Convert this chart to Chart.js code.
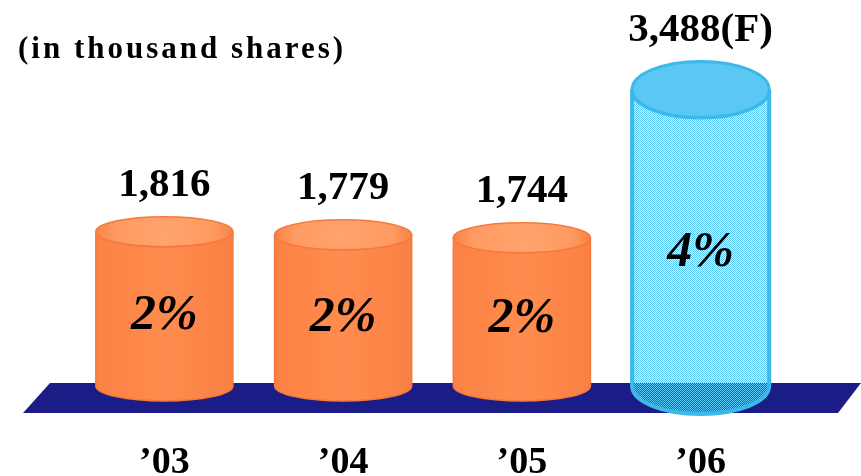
<!DOCTYPE html>
<html>
<head>
<meta charset="utf-8">
<script src="https://cdn.jsdelivr.net/npm/chart.js@4/dist/chart.umd.min.js"></script>
<style>
  html, body { margin: 0; padding: 0; background: #fff; }
  #wrap { width: 861px; height: 476px; }
</style>
</head>
<body>
<div id="wrap"><canvas id="sharesChart"></canvas></div>
<script>
// Shares per year (thousands) and share ratio
const years = ['\u201903', '\u201904', '\u201905', '\u201906'];
const shares = [1816, 1779, 1744, 3488];
const ratios = [2, 2, 2, 4];
const forecast = [false, false, false, true];
const yRange = [0, 4000];

const SERIF = '"Liberation Serif", "Times New Roman", serif';

// small dotted fill for the forecast cylinder
function dotPattern(ctx) {
    const c = document.createElement('canvas');
    c.width = 2;
    c.height = 2;
    const p = c.getContext('2d');
    p.fillStyle = '#5cc8f5';
    p.fillRect(0, 0, 1, 1);
    p.fillRect(1, 1, 1, 1);
    p.fillStyle = 'rgba(150,215,245,0.3)';
    p.fillRect(1, 0, 1, 1);
    p.fillRect(0, 1, 1, 1);
    return ctx.createPattern(c, 'repeat');
}

function drawCylinder(ctx, x, w, top, base, ry, isForecast) {
    const rx = w / 2;
    // body
    ctx.beginPath();
    ctx.moveTo(x - rx, top);
    ctx.lineTo(x - rx, base);
    ctx.ellipse(x, base, rx, ry, 0, Math.PI, 0, true);
    ctx.lineTo(x + rx, top);
    ctx.ellipse(x, top, rx, ry, 0, 0, Math.PI, false);
    ctx.closePath();
    if (isForecast) {
        ctx.fillStyle = dotPattern(ctx);
        ctx.fill();
        ctx.lineWidth = 4;
        ctx.strokeStyle = '#3cb9ec';
        ctx.stroke();
    } else {
        const g = ctx.createLinearGradient(x - rx, 0, x + rx, 0);
        g.addColorStop(0, '#fb8244');
        g.addColorStop(0.5, '#ff8c4e');
        g.addColorStop(1, '#fa8043');
        ctx.fillStyle = g;
        ctx.fill();
        ctx.lineWidth = 1.5;
        ctx.strokeStyle = '#f47a3c';
        ctx.stroke();
    }
    // cap
    ctx.beginPath();
    ctx.ellipse(x, top, rx, ry, 0, 0, Math.PI * 2);
    if (isForecast) {
        ctx.fillStyle = '#5ac8f3';
        ctx.fill();
        ctx.lineWidth = 3;
        ctx.strokeStyle = '#3cb9ec';
        ctx.stroke();
    } else {
        const rg = ctx.createRadialGradient(x, top + ry * 0.3, 2, x, top, rx);
        rg.addColorStop(0, '#ffa46e');
        rg.addColorStop(0.7, '#ff9a62');
        rg.addColorStop(1, '#f88446');
        ctx.fillStyle = rg;
        ctx.fill();
        ctx.lineWidth = 1.5;
        ctx.strokeStyle = '#f47a3c';
        ctx.stroke();
    }
}

const cylinders = {
    id: 'cylinders',
    beforeDatasetsDraw(chart) {
        const ctx = chart.ctx;
        const a = chart.chartArea;
        const base = chart.scales.y.getPixelForValue(0);
        ctx.save();
        // unit caption
        ctx.fillStyle = '#000';
        ctx.font = 'bold 31px ' + SERIF;
        ctx.letterSpacing = '3px';
        ctx.textAlign = 'left';
        ctx.textBaseline = 'middle';
        ctx.fillText('(in thousand shares)', 18, 50);
        ctx.letterSpacing = '0px';
        // platform under the cylinders
        ctx.beginPath();
        ctx.moveTo(a.left - 25, base - 3);
        ctx.lineTo(chart.width, base - 3);
        ctx.lineTo(chart.width - 23, base + 27);
        ctx.lineTo(a.left - 52, base + 27);
        ctx.closePath();
        ctx.fillStyle = '#1c1c86';
        ctx.fill();
        ctx.restore();
    },
    afterDatasetsDraw(chart) {
        const ctx = chart.ctx;
        const meta = chart.getDatasetMeta(0);
        ctx.save();
        meta.data.forEach((bar, i) => {
            const f = forecast[i];
            const ry = f ? 28 : 15;
            drawCylinder(ctx, bar.x, bar.width, bar.y, bar.base, ry, f);
            ctx.fillStyle = '#000';
            ctx.textAlign = 'center';
            ctx.textBaseline = 'middle';
            ctx.font = 'bold 41px ' + SERIF;
            const txt = shares[i].toLocaleString('en-US') + (f ? '(F)' : '');
            ctx.fillText(txt, bar.x, bar.y - ry - 31);
            ctx.font = 'italic bold 50px ' + SERIF;
            ctx.fillText(ratios[i] + '%', bar.x, bar.y + (bar.base - bar.y) * 0.55);
        });
        ctx.restore();
    }
};

new Chart(document.getElementById('sharesChart'), {
    type: 'bar',
    data: {
        labels: years,
        datasets: [{
            data: shares,
            backgroundColor: 'rgba(0,0,0,0)',
            borderWidth: 0,
            barPercentage: 0.767,
            categoryPercentage: 1
        }]
    },
    options: {
        responsive: true,
        maintainAspectRatio: false,
        animation: false,
        layout: { padding: { left: 75, right: 71, top: 46, bottom: -64 } },
        plugins: { legend: { display: false }, tooltip: { enabled: false } },
        scales: {
            x: {
                grid: { display: false, drawTicks: false },
                border: { display: false },
                ticks: {
                    color: '#000',
                    padding: 58,
                    font: { family: SERIF, size: 38, weight: 'bold', lineHeight: 1 }
                }
            },
            y: { display: false, min: yRange[0], max: yRange[1] }
        }
    },
    plugins: [cylinders]
});
</script>
</body>
</html>
